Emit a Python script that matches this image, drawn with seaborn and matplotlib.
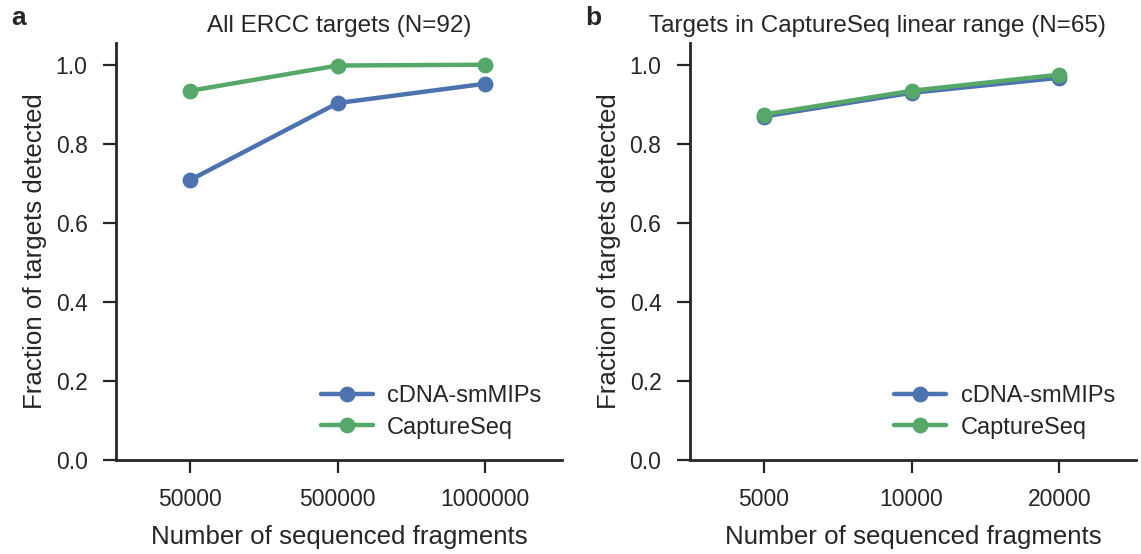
import numpy as np
import pandas as pd
import seaborn as sns
import matplotlib
matplotlib.use("Agg")
import matplotlib.pyplot as plt

# ---- data ----
methods = ["cDNA-smMIPs", "CaptureSeq"]
a_fragments = ["50000", "500000", "1000000"]
a_cdna = [0.708, 0.903, 0.952]
a_capture = [0.934, 0.998, 1.0]
b_fragments = ["5000", "10000", "20000"]
b_cdna = [0.869, 0.929, 0.967]
b_capture = [0.874, 0.934, 0.975]
titles = ["All ERCC targets (N=92)", "Targets in CaptureSeq linear range (N=65)"]
panel_letters = ["a", "b"]
yticks = [0.0, 0.2, 0.4, 0.6, 0.8, 1.0]

def long_df(frags, cdna, cap):
    return pd.DataFrame({
        "fragments": frags + frags,
        "fraction": cdna + cap,
        "method": [methods[0]] * len(frags) + [methods[1]] * len(frags),
    })

sns.set_theme(style="ticks")
plt.rcParams["font.family"] = ["Liberation Sans", "DejaVu Sans"]
plt.rcParams.update({
    "text.color": "#262626",
    "axes.labelcolor": "#262626",
    "xtick.color": "#262626",
    "ytick.color": "#262626",
    "axes.edgecolor": "#262626",
})

fig = plt.figure(figsize=(11.41, 5.54), dpi=100)
ax_a = fig.add_axes([0.1017, 0.1697, 0.391, 0.7527])
ax_b = fig.add_axes([0.6047, 0.1697, 0.391, 0.7527])
palette = ["#4C72B0", "#55A868"]
title_x = [0.5, 0.42]

datasets = [long_df(a_fragments, a_cdna, a_capture), long_df(b_fragments, b_cdna, b_capture)]
for ax, df, title, letter, tx in zip([ax_a, ax_b], datasets, titles, panel_letters, title_x):
    sns.pointplot(data=df, x="fragments", y="fraction", hue="method",
                  palette=palette, ax=ax, markersize=9, linewidth=3.2,
                  errorbar=None)
    ax.set_ylim(0, 1.055)
    ax.set_xlim(-0.5, 2.52)
    ax.set_yticks(yticks)
    ax.set_yticklabels([f"{v:.1f}" for v in yticks])
    ax.tick_params(axis="both", labelsize=16.5, length=9.5, width=1.6)
    ax.tick_params(axis="x", pad=11)
    ax.tick_params(axis="y", pad=11)
    for s in ["left", "bottom"]:
        ax.spines[s].set_linewidth(2)
    sns.despine(ax=ax)
    ax.set_xlabel("Number of sequenced fragments", fontsize=18.6, labelpad=10)
    ax.set_ylabel("Fraction of targets detected", fontsize=18.6, labelpad=6)
    ax.set_title(title, fontsize=17.5, pad=8, x=tx)
    leg = ax.legend(loc="lower right", frameon=False, fontsize=17, handlelength=2.2,
                    handletextpad=0.6, labelspacing=0.4,
                    bbox_to_anchor=(1.0, 0.0))
    pos = ax.get_position()
    fig.text(pos.x0 - 0.092, 0.955, letter, fontsize=19, fontweight="bold",
             ha="left", va="baseline")

fig.savefig("out.png", dpi=100)
